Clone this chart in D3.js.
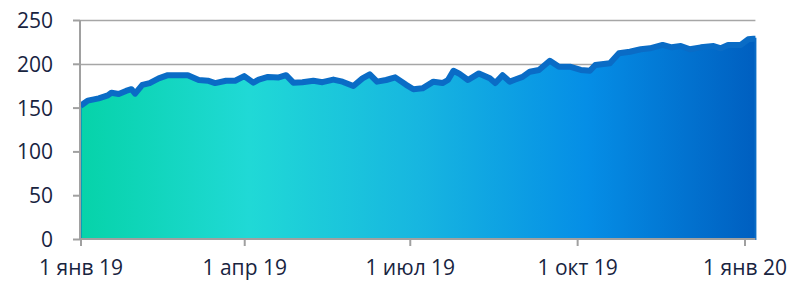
<!DOCTYPE html>
<html>
<head>
<meta charset="utf-8">
<script src="https://cdn.jsdelivr.net/npm/d3@7/dist/d3.min.js"></script>
<style>
  body { margin: 0; background: #fff; }
  svg text { font-family: "Open Sans", sans-serif; fill: #18243f; }
</style>
</head>
<body>
<svg id="chart" width="798" height="284"></svg>
<script>
// values
var dates = ["2019-01-01","2019-01-03","2019-01-05","2019-01-11","2019-01-16","2019-01-18","2019-01-22","2019-01-26",
  "2019-01-29","2019-01-31","2019-02-04","2019-02-08","2019-02-13","2019-02-18","2019-02-24","2019-03-01",
  "2019-03-07","2019-03-12","2019-03-16","2019-03-22","2019-03-27","2019-04-01","2019-04-06","2019-04-09",
  "2019-04-14","2019-04-20","2019-04-24","2019-04-28","2019-05-03","2019-05-09","2019-05-14","2019-05-20",
  "2019-05-25","2019-05-31","2019-06-05","2019-06-09","2019-06-13","2019-06-18","2019-06-23","2019-06-29",
  "2019-07-03","2019-07-08","2019-07-14","2019-07-19","2019-07-22","2019-07-25","2019-07-28","2019-08-02",
  "2019-08-08","2019-08-14","2019-08-17","2019-08-21","2019-08-25","2019-08-28","2019-09-01","2019-09-05",
  "2019-09-10","2019-09-16","2019-09-21","2019-09-27","2019-10-03","2019-10-08","2019-10-11","2019-10-19",
  "2019-10-24","2019-10-30","2019-11-05","2019-11-10","2019-11-17","2019-11-22","2019-11-27","2019-12-02",
  "2019-12-08","2019-12-15","2019-12-19","2019-12-23","2019-12-30","2020-01-03","2020-01-06","2020-01-07"];
var values = [152,155,158,160.6,164,167,165.5,169,
  171,166,176,178,183.4,187,187,187,
  181.5,180.7,178,180.7,180.7,186,178.5,182,
  185,184.5,187,178.5,179,180.7,179,182,
  179.6,174.7,183.4,188,179.6,181.5,184.5,176,
  171,172,179.6,178,181.5,192,189,181.5,
  189,183.4,178,187,179.6,182,185,191,
  193,203.5,196.7,196.7,193,192,198.6,200.6,
  212,213.8,216.6,217.7,221.5,218.8,220.3,216.6,
  218.8,220.3,217.7,221.5,221.5,228,228.6,228.6];
var yTicks = [0,50,100,150,200,250];
var xTickDates = ["2019-01-01","2019-04-01","2019-07-01","2019-10-01","2020-01-01"];
var xTickLabels = ["1 янв 19","1 апр 19","1 июл 19","1 окт 19","1 янв 20"];

var parse = d3.timeParse("%Y-%m-%d");
var data = dates.map(function(d,i){ return {date: parse(d), value: values[i]}; });

var svg = d3.select("#chart");
var x = d3.scaleTime().domain([parse("2019-01-01"), parse("2020-01-01")]).range([80.5, 744.5]);
var y = d3.scaleLinear().domain([0,250]).range([239, 20]);
var xEnd = x(data[data.length-1].date);

/* gradient fill, green on the left to deep blue on the right */
var grad = svg.append("defs").append("linearGradient")
  .attr("id","fill").attr("gradientUnits","userSpaceOnUse")
  .attr("x1",x.range()[0]).attr("x2",xEnd).attr("y1",0).attr("y2",0);
[["0","#06d3a9"],["0.25","#20d9d6"],["0.5","#17b6e0"],["0.75","#058ee6"],["1","#005fc0"]].forEach(function(s){
  grad.append("stop").attr("offset",s[0]).attr("stop-color",s[1]);
});

/* gridlines */
svg.append("g").selectAll("line").data(yTicks.slice(1)).enter().append("line")
  .attr("x1",80).attr("x2",xEnd).attr("y1",function(d){return Math.round(y(d))+0.5;})
  .attr("y2",function(d){return Math.round(y(d))+0.5;})
  .attr("stroke","#a6a6a6").attr("stroke-width",1.5);

var area = d3.area().x(function(d){return x(d.date);}).y0(y(0)).y1(function(d){return y(d.value);});
var line = d3.line().x(function(d){return x(d.date);}).y(function(d){return y(d.value);});

svg.append("path").datum(data).attr("d",area)
  .attr("fill","url(#fill)").attr("stroke","#0a6cc6").attr("stroke-width",2);
svg.append("path").datum(data).attr("d",line)
  .attr("fill","none").attr("stroke","#0a6cc6").attr("stroke-width",6)
  .attr("stroke-linejoin","round").attr("stroke-linecap","butt");

/* y axis */
var yAxis = svg.append("g").attr("transform","translate(80,0)")
  .call(d3.axisLeft(y).tickValues(yTicks).tickSize(7).tickPadding(20));
yAxis.select(".domain").attr("stroke","#a0a0a0").attr("stroke-width",2).attr("d","M0,20V240");
yAxis.selectAll(".tick line").attr("stroke","#a0a0a0").attr("stroke-width",2);
yAxis.selectAll("text").style("font-size","21px").attr("dy","0.36em");

/* x axis */
var xAxis = svg.append("g").attr("transform","translate(0,239)")
  .call(d3.axisBottom(x).tickValues(xTickDates.map(parse))
    .tickFormat(function(d,i){return xTickLabels[i];}).tickSize(7).tickPadding(14));
xAxis.select(".domain").attr("stroke","#a0a0a0").attr("stroke-width",2).attr("d","M79,0H"+xEnd);
xAxis.selectAll(".tick line").attr("stroke","#a0a0a0").attr("stroke-width",2);
xAxis.selectAll("text").style("font-size","21px");
</script>
</body>
</html>
